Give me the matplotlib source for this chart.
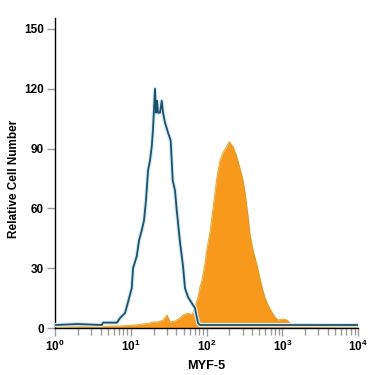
import matplotlib
matplotlib.use("Agg")
import matplotlib.pyplot as plt
import numpy as np
from matplotlib.ticker import FixedLocator, LogLocator, NullFormatter

plt.rcParams['font.family'] = ['Liberation Sans', 'DejaVu Sans']
plt.rcParams['mathtext.fontset'] = 'custom'
plt.rcParams['mathtext.rm'] = 'Liberation Sans:bold'
plt.rcParams['mathtext.bf'] = 'Liberation Sans:bold'

# isotype control (outline), log10 fluorescence vs counts
iso_log = [0.0, 0.30, 0.617, 0.634, 0.686, 0.818, 0.858, 0.924, 0.964, 1.013, 1.030,
           1.079, 1.109, 1.145, 1.175, 1.201, 1.228, 1.254, 1.277, 1.294, 1.320,
           1.334, 1.347, 1.360, 1.386, 1.409, 1.426, 1.452, 1.492, 1.527, 1.554,
           1.584, 1.607, 1.650, 1.690, 1.716, 1.756, 1.805, 1.848, 1.888, 1.914,
           2.2, 2.6, 3.0, 3.5, 4.0]
iso_counts = [1.5, 2.0, 1.5, 2.7, 2.7, 2.7, 5.0, 7.5, 13.0, 20.0, 30.0,
              36.0, 44.0, 49.0, 54.0, 64.0, 79.0, 84.0, 91.0, 100.0, 120.0,
              108.0, 114.0, 108.0, 108.0, 114.0, 108.0, 103.0, 98.0, 94.0, 74.0,
              69.0, 59.0, 43.0, 31.0, 20.0, 15.5, 12.5, 10.0, 2.5, 1.5,
              1.5, 1.5, 1.5, 1.5, 1.5]

# MYF-5 stained (filled)
myf5_log = [0.0, 0.594, 0.858, 1.056, 1.162, 1.254, 1.294, 1.360, 1.426, 1.479,
            1.518, 1.584, 1.650, 1.690, 1.756, 1.809, 1.848, 1.875, 1.888, 1.914,
            1.941, 1.980, 2.007, 2.046, 2.086, 2.135, 2.178, 2.218, 2.267, 2.297,
            2.350, 2.399, 2.442, 2.482, 2.508, 2.548, 2.574, 2.614, 2.663, 2.693,
            2.729, 2.772, 2.812, 2.861, 2.904, 2.944, 3.010, 3.063, 3.102, 3.168,
            3.234, 4.0]
myf5_counts = [0.5, 0.8, 1.0, 1.5, 2.0, 2.5, 3.0, 3.0, 4.0, 6.5,
               3.0, 3.5, 5.0, 6.5, 7.5, 6.5, 10.5, 14.0, 15.5, 20.6,
               24.0, 32.6, 40.0, 48.0, 60.0, 75.0, 84.0, 88.0, 91.0, 93.5,
               91.0, 86.0, 80.0, 74.0, 68.0, 56.0, 47.0, 39.0, 32.0, 27.0,
               21.0, 15.0, 11.5, 8.0, 5.5, 4.0, 4.5, 4.0, 2.5, 1.5,
               0.8, 0.5]

y_ticks = [0, 30, 60, 90, 120, 150]
x_ticks = [1, 10, 100, 1000, 10000]
x_labels = [r'$\mathbf{10^{%d}}$' % i for i in range(5)]

fig = plt.figure(figsize=(3.75, 3.75), dpi=100)
ax = fig.add_axes([0.1467, 0.1253, 0.808, 0.8267])

iso_x = 10 ** np.array(iso_log)
myf5_x = 10 ** np.array(myf5_log)

ax.fill_between(myf5_x, myf5_counts, 0, color='#f7991c', lw=0, zorder=2)
ax.plot(myf5_x, myf5_counts, color='#fff1b8', lw=1.6, zorder=1)
ax.plot(myf5_x, myf5_counts, color='#c99a45', lw=0.5, zorder=3)
ax.plot(iso_x, iso_counts, color='#d4ecf7', lw=3.0, zorder=3)
ax.plot(iso_x, iso_counts, color='#1f5069', lw=1.3, zorder=4)

ax.set_xscale('log')
ax.set_xlim(1, 10000)
ax.set_ylim(0, 155.5)

ax.xaxis.set_major_locator(FixedLocator(x_ticks))
ax.set_xticklabels(x_labels)
ax.xaxis.set_minor_locator(LogLocator(base=10, subs=np.arange(2, 10)))
ax.xaxis.set_minor_formatter(NullFormatter())
ax.set_yticks(y_ticks)
ax.set_yticklabels([str(v) for v in y_ticks], fontweight='bold', fontsize=8.5)

for s in ['top', 'right']:
    ax.spines[s].set_visible(False)
for s in ['left', 'bottom']:
    ax.spines[s].set_linewidth(1.0)
    ax.spines[s].set_color('black')

ax.tick_params(axis='both', which='major', direction='out', color='#9a9a9a',
               length=6, width=1.0, labelsize=8.5, pad=2)
ax.tick_params(axis='x', which='minor', direction='out', color='#9a9a9a',
               length=5, width=1.0)

ax.set_xlabel('MYF-5', fontweight='bold', fontsize=9.2, labelpad=4)
ax.set_ylabel('Relative Cell Number', fontweight='bold', fontsize=8.5)
ax.yaxis.set_label_coords(-0.117, 0.482)

plt.savefig("out.png", dpi=100)
plt.close()
